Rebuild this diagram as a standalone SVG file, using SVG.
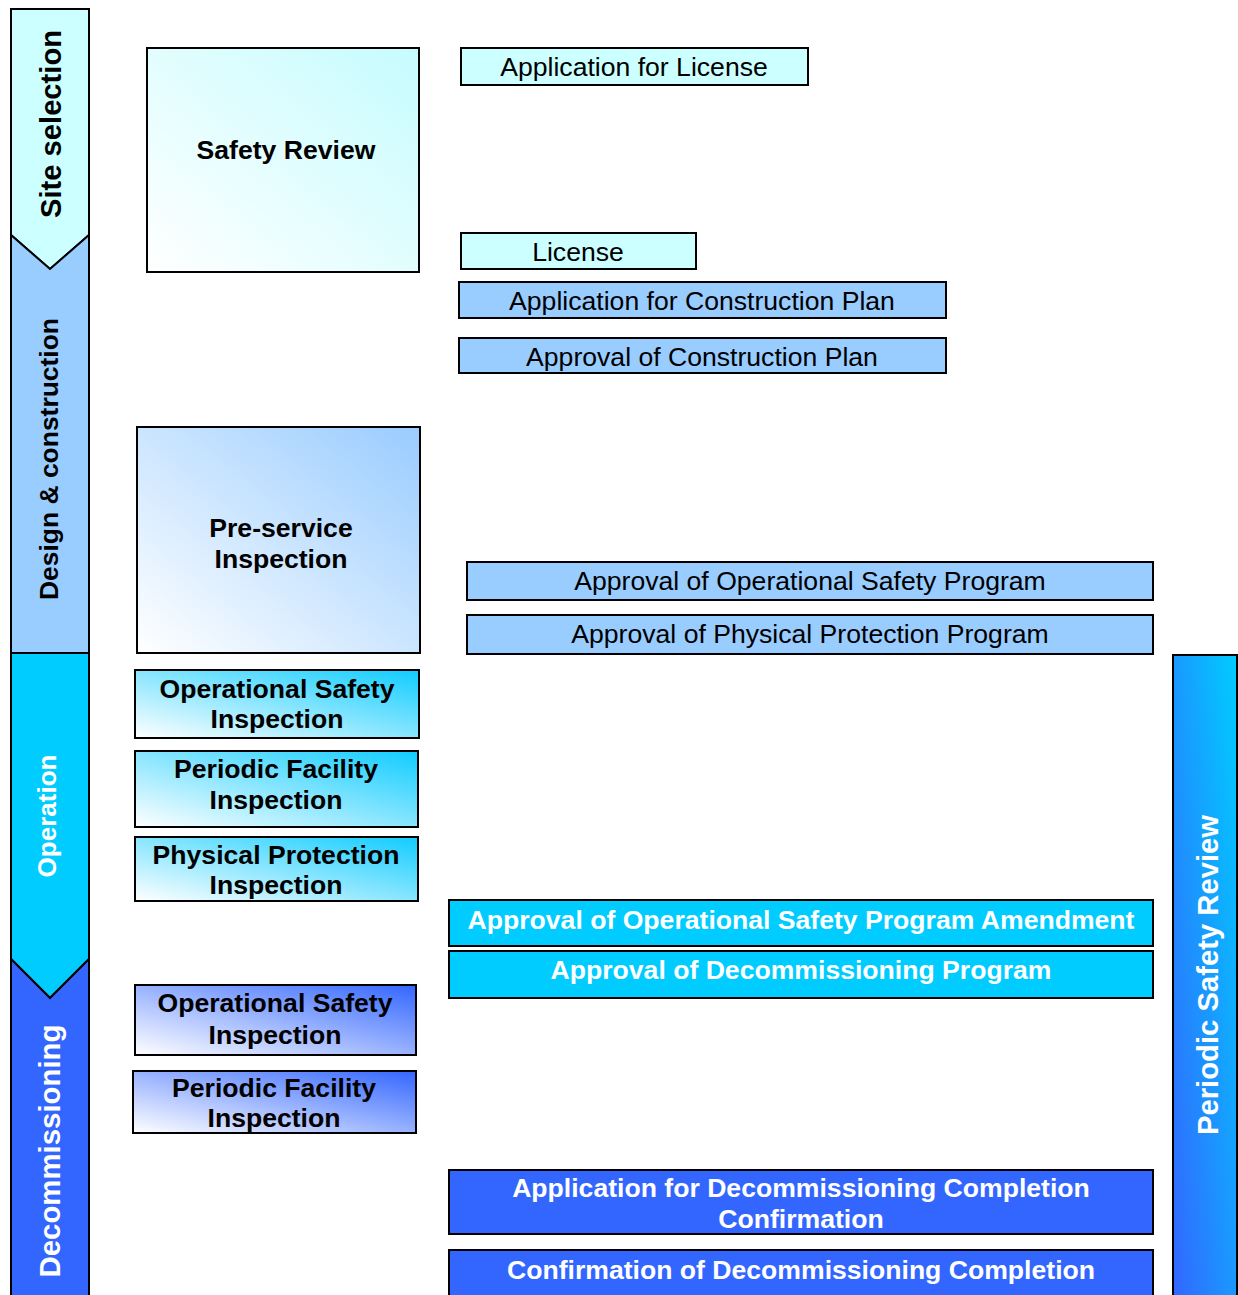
<svg xmlns="http://www.w3.org/2000/svg" width="1238" height="1295" viewBox="0 0 1238 1295">
<style>
.box{stroke:#000;stroke-width:2}
.t{font-family:"Liberation Sans",Arial,sans-serif;font-size:26.6px;text-anchor:middle}
.b{font-weight:bold}
.w{fill:#fff}
.k{fill:#000}
.phase{font-family:"Liberation Sans",Arial,sans-serif;text-anchor:middle;font-weight:bold}
</style>
<defs>
<linearGradient id="gSR" x1="0" y1="1" x2="1" y2="0"><stop offset="0" stop-color="#ffffff"/><stop offset="1" stop-color="#c6fcfe"/></linearGradient>
<linearGradient id="gPS" x1="0" y1="1" x2="1" y2="0"><stop offset="0" stop-color="#ffffff"/><stop offset="1" stop-color="#99ccff"/></linearGradient>
<linearGradient id="gOP" x1="0" y1="1" x2="1" y2="0"><stop offset="0" stop-color="#ffffff"/><stop offset="1" stop-color="#10ccff"/></linearGradient>
<linearGradient id="gDC" x1="0" y1="1" x2="1" y2="0"><stop offset="0" stop-color="#ffffff"/><stop offset="1" stop-color="#3366ff"/></linearGradient>
<linearGradient id="gPSR" x1="0" y1="1" x2="1" y2="0"><stop offset="0" stop-color="#3366ff"/><stop offset="1" stop-color="#00ccff"/></linearGradient>
</defs>
<rect width="1238" height="1295" fill="#fff"/>

<g id="phase-site-selection">
<polygon class="box" fill="#ccffff" points="11,9 89,9 89,235 50,269 11,235"/>
<text class="phase k" font-size="29" transform="translate(61,124) rotate(-90)" textLength="188" lengthAdjust="spacingAndGlyphs">Site selection</text>
</g>
<g id="phase-design-construction">
<polygon class="box" fill="#99ccff" points="11,235 50,269 89,235 89,653 11,653"/>
<text class="phase k" font-size="26.5" transform="translate(58,459) rotate(-90)" textLength="282" lengthAdjust="spacingAndGlyphs">Design &amp; construction</text>
</g>
<g id="phase-operation">
<polygon class="box" fill="#00ccff" points="11,653 89,653 89,959 50,998 11,959"/>
<text class="phase w" font-size="26.5" transform="translate(56,816) rotate(-90)" textLength="123" lengthAdjust="spacingAndGlyphs">Operation</text>
</g>
<g id="phase-decommissioning">
<polygon class="box" fill="#3366ff" points="11,959 50,998 89,959 89,1296 11,1296"/>
<text class="phase w" font-size="29" transform="translate(60,1151) rotate(-90)" textLength="253" lengthAdjust="spacingAndGlyphs">Decommissioning</text>
</g>

<g id="safety-review">
<rect class="box" x="147" y="48" width="272" height="224" fill="url(#gSR)"/>
<text class="t b k" x="286" y="159">Safety Review</text>
</g>
<g id="pre-service-inspection">
<rect class="box" x="137" y="427" width="283" height="226" fill="url(#gPS)"/>
<text class="t b k" x="281" y="537">Pre-service</text>
<text class="t b k" x="281" y="568">Inspection</text>
</g>
<g id="op-operational-safety-inspection">
<rect class="box" x="135" y="670" width="284" height="68" fill="url(#gOP)"/>
<text class="t b k" x="277" y="698">Operational Safety</text>
<text class="t b k" x="277" y="728">Inspection</text>
</g>
<g id="op-periodic-facility-inspection">
<rect class="box" x="135" y="751" width="283" height="76" fill="url(#gOP)"/>
<text class="t b k" x="276" y="778">Periodic Facility</text>
<text class="t b k" x="276" y="809">Inspection</text>
</g>
<g id="op-physical-protection-inspection">
<rect class="box" x="135" y="837" width="283" height="64" fill="url(#gOP)"/>
<text class="t b k" x="276" y="864">Physical Protection</text>
<text class="t b k" x="276" y="894">Inspection</text>
</g>
<g id="dc-operational-safety-inspection">
<rect class="box" x="135" y="985" width="281" height="70" fill="url(#gDC)"/>
<text class="t b k" x="275" y="1012">Operational Safety</text>
<text class="t b k" x="275" y="1044">Inspection</text>
</g>
<g id="dc-periodic-facility-inspection">
<rect class="box" x="133" y="1071" width="283" height="62" fill="url(#gDC)"/>
<text class="t b k" x="274" y="1097">Periodic Facility</text>
<text class="t b k" x="274" y="1127">Inspection</text>
</g>

<g id="application-for-license">
<rect class="box" x="461" y="48" width="347" height="37" fill="#ccffff"/>
<text class="t k" x="634" y="76">Application for License</text>
</g>
<g id="license">
<rect class="box" x="461" y="233" width="235" height="36" fill="#ccffff"/>
<text class="t k" x="578" y="261">License</text>
</g>
<g id="application-for-construction-plan">
<rect class="box" x="459" y="282" width="487" height="36" fill="#99ccff"/>
<text class="t k" x="702" y="310">Application for Construction Plan</text>
</g>
<g id="approval-of-construction-plan">
<rect class="box" x="459" y="338" width="487" height="35" fill="#99ccff"/>
<text class="t k" x="702" y="366">Approval of Construction Plan</text>
</g>
<g id="approval-of-operational-safety-program">
<rect class="box" x="467" y="562" width="686" height="38" fill="#99ccff"/>
<text class="t k" x="810" y="590">Approval of Operational Safety Program</text>
</g>
<g id="approval-of-physical-protection-program">
<rect class="box" x="467" y="615" width="686" height="39" fill="#99ccff"/>
<text class="t k" x="810" y="643">Approval of Physical Protection Program</text>
</g>
<g id="approval-of-osp-amendment">
<rect class="box" x="449" y="900" width="704" height="46" fill="#00ccff"/>
<text class="t b w" x="801" y="929">Approval of Operational Safety Program Amendment</text>
</g>
<g id="approval-of-decommissioning-program">
<rect class="box" x="449" y="951" width="704" height="47" fill="#00ccff"/>
<text class="t b w" x="801" y="979">Approval of Decommissioning Program</text>
</g>
<g id="application-for-decommissioning-completion-confirmation">
<rect class="box" x="449" y="1170" width="704" height="64" fill="#3366ff"/>
<text class="t b w" x="801" y="1197">Application for Decommissioning Completion</text>
<text class="t b w" x="801" y="1228">Confirmation</text>
</g>
<g id="confirmation-of-decommissioning-completion">
<rect class="box" x="449" y="1250" width="704" height="50" fill="#3366ff"/>
<text class="t b w" x="801" y="1279">Confirmation of Decommissioning Completion</text>
</g>

<g id="periodic-safety-review">
<rect class="box" x="1173" y="655" width="64" height="645" fill="url(#gPSR)"/>
<text class="phase w" font-size="29" transform="translate(1218,975) rotate(-90)" textLength="320" lengthAdjust="spacingAndGlyphs">Periodic Safety Review</text>
</g>
<g id="connectors"/>
</svg>
